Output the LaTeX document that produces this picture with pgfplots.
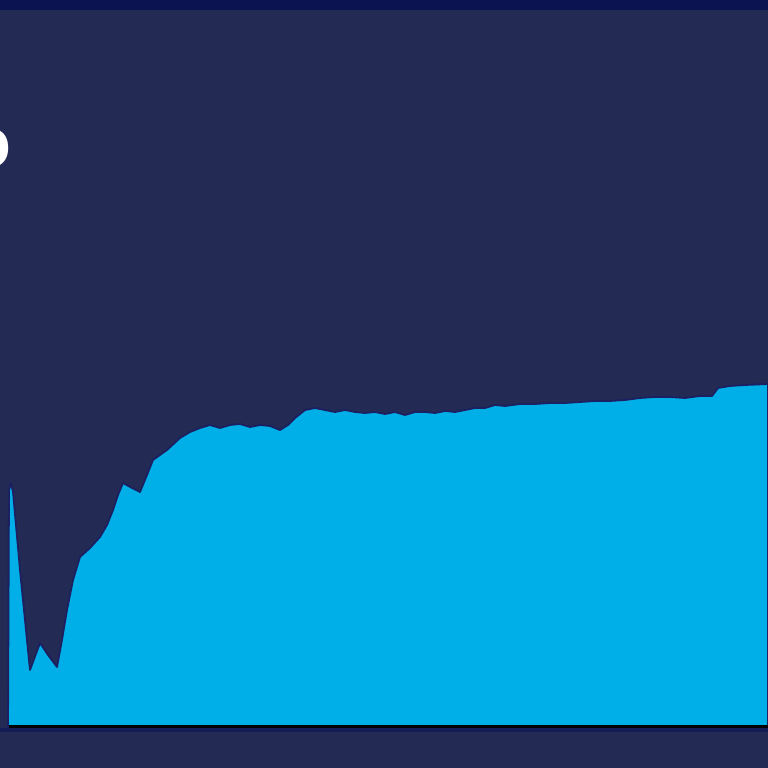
\documentclass[border=0pt]{standalone}
\usepackage{pgfplots}
\usepackage{pgfplotstable}
\pgfplotsset{compat=1.18}
\usepackage{fontspec}
\setmainfont{Liberation Sans}
\definecolor{bgnavy}{HTML}{232A54}
\definecolor{topband}{HTML}{0B1350}
\definecolor{areablue}{HTML}{00AEE8}
\definecolor{edgeblue}{HTML}{1C2060}
\definecolor{baseline}{HTML}{6CA6D8}
\definecolor{darkline}{HTML}{141C55}
\pgfplotstableread{
x y
8 730
9 490
11 483
13 492
20 570
30 670
40 643
48 655
57 667
62 640
67 610
73 580
80 557
90 548
100 537
107 525
113 510
118 495
123 483
132 488
140 492
147 475
153 460
160 455
167 450
180 438
190 432
200 428
210 425
220 428
230 425
240 424
250 427
260 425
270 426
280 430
288 425
295 418
305 410
315 408
325 410
335 412
345 410
355 412
365 413
375 412
385 414
395 412
405 415
415 412
425 412
435 413
445 411
455 412
465 410
475 408
485 408
495 405
505 406
520 404
535 404
550 403
565 403
580 402
595 401
610 401
625 400
640 398
655 397
670 397
685 398
700 396
712 396
718 388
730 386
745 385
768 384
768 730
}\profile
\begin{document}
\begin{tikzpicture}[x=1pt,y=1pt]
\useasboundingbox (0,0) rectangle (768,768);
\fill[bgnavy] (0,0) rectangle (768,768);
\fill[topband] (0,758) rectangle (768,768);
\begin{axis}[at={(0,0)},anchor=south west,
  width=768pt,height=768pt,scale only axis,
  xmin=0,xmax=768,ymin=0,ymax=768,
  axis lines=none,clip=true]
\addplot[fill=areablue,draw=edgeblue,line width=1.8pt,line join=round]
  table[x=x,y expr=768-\thisrow{y}] {\profile} -- cycle;
\end{axis}
\fill[baseline] (9,40) rectangle (768,43);
\fill[darkline] (0,36) rectangle (768,40);
\fill[bgnavy] (0,0) rectangle (768,36);
\node[anchor=east,text=white,font=\bfseries\fontsize{72}{72}\selectfont,inner sep=0pt] at (12,620) {o};
\end{tikzpicture}
\end{document}
